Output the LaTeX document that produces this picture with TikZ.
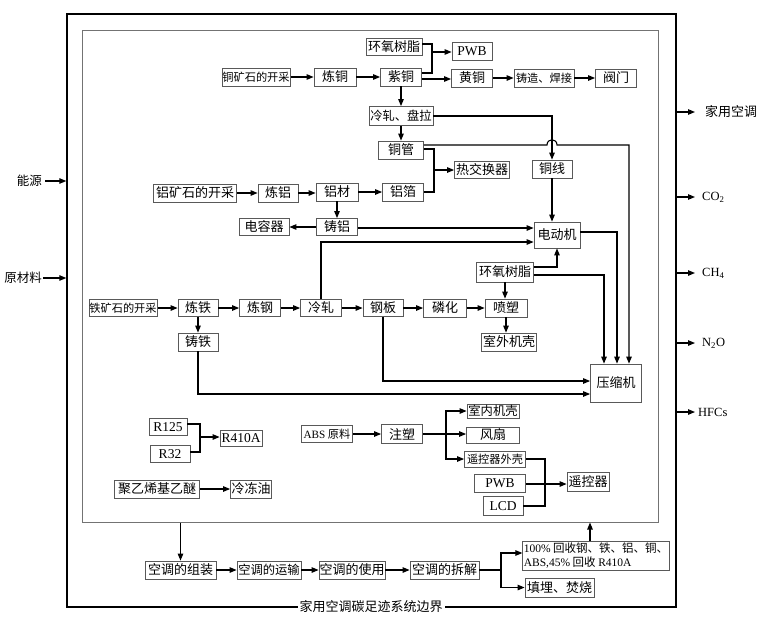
\documentclass[tikz,border=0pt]{standalone}
\usepackage{fontspec}
\setmainfont{Liberation Serif}
\newfontfamily\cjk{Noto Sans CJK SC}
\usetikzlibrary{arrows.meta}
\newcommand\lat[1]{{\rmfamily #1}}
\begin{document}
\begin{tikzpicture}[x=1pt,y=-1pt,
  box/.style={draw=black!65, line width=0.8pt, fill=white, inner sep=0.5pt,
    minimum height=18pt, font=\cjk\fontsize{13}{15}\selectfont},
  mid/.style={font=\cjk\fontsize{12.3}{14}\selectfont},
  small/.style={font=\cjk\fontsize{11.2}{13}\selectfont},
  latbox/.style={font=\rmfamily\fontsize{13.5}{15}\selectfont},
  arr/.style={-{Triangle[length=7pt,width=5.5pt]}, line width=1.1pt},
  ln/.style={line width=1.1pt},
  lab/.style={font=\cjk\fontsize{12.5}{14}\selectfont, inner sep=0pt},
  glab/.style={font=\rmfamily\fontsize{12.5}{14}\selectfont, inner sep=0pt, anchor=west}]
\useasboundingbox (0,0) rectangle (766,622);
% boundaries
\node[draw=black, line width=1.4pt, minimum width=609pt, minimum height=593pt, inner sep=0pt] (outer) at (371.5,310.5) {};
\node[draw=black!55, line width=1pt, minimum width=576pt, minimum height=492pt, inner sep=0pt] (inner) at (370,276) {};
\node[lab, fill=white, inner xsep=2pt, font=\cjk\fontsize{13}{15}\selectfont] (blabel) at (371,607) {家用空调碳足迹系统边界};
% left inputs
\node[lab, anchor=east] (energy) at (42,181) {能源};
\node[lab, anchor=east] (raw) at (42,278) {原材料};
\draw[arr] ([xshift=3pt]energy.east) -- (energy.east -| outer.west);
\draw[arr] ([xshift=1pt]raw.east) -- (raw.east -| outer.west);
% right outputs
\node[lab, anchor=west, font=\cjk\fontsize{13}{15}\selectfont] (o1) at (705,112) {家用空调};
\node[glab] (o2) at (702,197) {CO\textsubscript{2}};
\node[glab] (o3) at (702,273) {CH\textsubscript{4}};
\node[glab] (o4) at (702,343) {N\textsubscript{2}O};
\node[glab] (o5) at (698,412) {HFCs};
\draw[arr] (outer.east |- o1.west) -- ([xshift=-10pt]o1.west);
\draw[arr] (outer.east |- o2.west) -- ([xshift=-7pt]o2.west);
\draw[arr] (outer.east |- o3.west) -- ([xshift=-7pt]o3.west);
\draw[arr] (outer.east |- o4.west) -- ([xshift=-7pt]o4.west);
\draw[arr] (outer.east |- o5.west) -- ([xshift=-3pt]o5.west);
% copper
\node[box, minimum width=56pt, minimum height=17pt] (ep1) at (394,47) {环氧树脂};
\node[box, latbox, minimum width=40pt] (pwb1) at (472,51) {PWB};
\node[box, small, minimum width=68pt] (cuore) at (256,77) {铜矿石的开采};
\node[box, minimum width=42pt] (liantong) at (335,77) {炼铜};
\node[box, minimum width=41pt] (zitong) at (401,77) {紫铜};
\node[box, minimum width=41pt] (huangtong) at (472,78) {黄铜};
\node[box, small, minimum width=60pt] (zhuzao) at (544,78) {铸造、焊接};
\node[box, minimum width=41pt] (famen) at (616,78) {阀门};
\node[box, mid, minimum width=64pt, minimum height=19pt] (lengzha1) at (401,116) {冷轧、盘拉};
\node[box, minimum width=45pt] (tongguan) at (401,150) {铜管};
\node[box, minimum width=55pt, minimum height=17pt] (rejiao) at (482,170) {热交换器};
\node[box, minimum width=40pt] (tongxian) at (552,169) {铜线};
% aluminium
\node[box, minimum width=83pt] (alore) at (195,193) {铝矿石的开采};
\node[box, minimum width=40pt] (lianlv) at (278,193) {炼铝};
\node[box, minimum width=42pt] (lvcai) at (337,192) {铝材};
\node[box, minimum width=41pt] (lvbo) at (403,192) {铝箔};
\node[box, minimum width=41pt, minimum height=17pt] (zhulv) at (337,227) {铸铝};
\node[box, minimum width=50pt, minimum height=17pt] (dianrong) at (264,227) {电容器};
\node[box, minimum width=46pt, minimum height=26pt] (motor) at (557,235) {电动机};
\node[box, minimum width=57pt, minimum height=20pt] (ep2) at (505,272) {环氧树脂};
% iron
\node[box, small, minimum width=67pt, minimum height=17pt] (feore) at (123,308) {铁矿石的开采};
\node[box, minimum width=40pt, minimum height=17pt] (liantie) at (198,308) {炼铁};
\node[box, minimum width=41pt, minimum height=17pt] (liangang) at (260,308) {炼钢};
\node[box, minimum width=41pt, minimum height=17pt] (lengzha2) at (321,308) {冷轧};
\node[box, minimum width=40pt, minimum height=17pt] (gangban) at (383,308) {钢板};
\node[box, minimum width=43pt] (linhua) at (445,308) {磷化};
\node[box, minimum width=42pt] (pensu) at (506,308) {喷塑};
\node[box, minimum width=55pt] (shell) at (509,342) {室外机壳};
\node[box, minimum width=40pt] (zhutie) at (198,342) {铸铁};
\node[box, minimum width=51pt, minimum height=38pt] (comp) at (616,383) {压缩机};
% refrigerant, oil, plastics
\node[box, latbox, minimum width=38pt, minimum height=17pt] (r125) at (168,427) {R125};
\node[box, latbox, minimum width=40pt, minimum height=17pt] (r32) at (170,454) {R32};
\node[box, latbox, minimum width=42pt, minimum height=16pt] (r410a) at (241,438) {R410A};
\node[box, minimum width=85pt] (pve) at (157,489) {聚乙烯基乙醚};
\node[box, minimum width=41pt] (oil) at (251,489) {冷冻油};
\node[box, small, minimum width=51pt, minimum height=17pt] (abs) at (327,434) {\lat{ABS} 原料};
\node[box, minimum width=41pt, minimum height=19pt] (zhusu) at (402,434) {注塑};
\node[box, mid, minimum width=52pt, minimum height=14pt] (indoor) at (493,411) {室内机壳};
\node[box, minimum width=53pt, minimum height=16pt] (fan) at (493,435) {风扇};
\node[box, small, minimum width=61pt, minimum height=16pt] (rcshell) at (495,459) {遥控器外壳};
\node[box, latbox, minimum width=51pt] (pwb2) at (500,483) {PWB};
\node[box, latbox, minimum width=40pt, minimum height=19pt] (lcd) at (503,506) {LCD};
\node[box, minimum width=42pt, minimum height=19pt] (remote) at (588,482) {遥控器};
% life cycle
\node[box, minimum width=71pt] (assemble) at (180.5,570) {空调的组装};
\node[box, mid, minimum width=64pt] (transport) at (269,570) {空调的运输};
\node[box, minimum width=66pt] (use) at (352,570) {空调的使用};
\node[box, minimum width=69pt] (dismantle) at (444.5,570) {空调的拆解};
\node[box, font=\cjk\fontsize{11.5}{13.5}\selectfont, align=left, minimum width=145pt, minimum height=29pt, inner sep=1pt] (recycle) at (596,555.5) {\lat{100\%} 回收钢、铁、铝、铜、\\\lat{ABS,45\%} 回收 \lat{R410A}};
\node[box, minimum width=69pt, minimum height=19pt] (landfill) at (559.5,587.5) {填埋、焚烧};
% copper connectors
\draw[arr] (cuore.east) -- (cuore.east -| liantong.west);
\draw[arr] (liantong.east) -- (liantong.east -| zitong.west);
\draw[arr] (zitong.east |- 0,79) -- (huangtong.west |- 0,79);
\draw[arr] (huangtong.east) -- (huangtong.east -| zhuzao.west);
\draw[arr] (zhuzao.east) -- (zhuzao.east -| famen.west);
\coordinate (j1) at (432,52);
\draw[ln] (ep1.east |- 0,44) -| (j1) |- (zitong.east |- 0,73);
\draw[arr] (j1) -- (j1 -| pwb1.west);
\draw[arr] (zitong.south) -- (lengzha1.north);
\draw[arr] (lengzha1.south) -- (tongguan.north);
\draw[arr] (lengzha1.east) -| (tongxian.north);
\draw[arr] (tongguan.east |- 0,145) -- (547,145) .. controls (547,138) and (557,138) .. (557,145) -- (629,145) -- (comp.north -| 629,0);
\coordinate (j2) at (434,170);
\draw[ln] (tongguan.east |- 0,149) -| (j2) |- (lvbo.east);
\draw[arr] (j2) -- (j2 -| rejiao.west);
% aluminium connectors
\draw[arr] (alore.east) -- (alore.east -| lianlv.west);
\draw[arr] (lianlv.east) -- (lianlv.east -| lvcai.west);
\draw[arr] (lvcai.east) -- (lvcai.east -| lvbo.west);
\draw[arr] (lvcai.south) -- (zhulv.north);
\draw[arr] (zhulv.west) -- (zhulv.west -| dianrong.east);
\draw[arr] (zhulv.east |- 0,228) -- (motor.west |- 0,228);
\draw[arr] (lengzha2.north) |- (motor.west |- 0,242);
\draw[arr] (tongxian.south) -- (tongxian.south |- motor.north);
\draw[arr] (motor.east |- 0,232) -| (comp.north -| 617,0);
\draw[arr] (ep2.east |- 0,267) -| (motor.south);
\draw[arr] (ep2.east |- 0,275) -| (comp.north -| 604,0);
\draw[arr] (ep2.south) -- (ep2.south |- pensu.north);
% iron connectors
\draw[arr] (feore.east) -- (feore.east -| liantie.west);
\draw[arr] (liantie.east) -- (liantie.east -| liangang.west);
\draw[arr] (liangang.east) -- (liangang.east -| lengzha2.west);
\draw[arr] (lengzha2.east) -- (lengzha2.east -| gangban.west);
\draw[arr] (gangban.east) -- (gangban.east -| linhua.west);
\draw[arr] (linhua.east) -- (linhua.east -| pensu.west);
\draw[arr] (pensu.south) -- (pensu.south |- shell.north);
\draw[arr] (liantie.south) -- (zhutie.north);
\draw[arr] (gangban.south) |- (comp.west |- 0,381);
\draw[arr] (zhutie.south) |- (comp.west |- 0,394);
% refrigerant etc.
\coordinate (j3) at (200,437);
\draw[ln] (r125.east |- 0,424) -| (j3) |- (r32.east |- 0,452);
\draw[arr] (j3) -- (j3 -| r410a.west);
\draw[arr] (pve.east) -- (pve.east -| oil.west);
\draw[arr] (abs.east) -- (abs.east -| zhusu.west);
\coordinate (j4) at (446,434);
\draw[ln] (zhusu.east |- j4) -- (j4);
\draw[arr] (j4) |- (indoor.west);
\draw[arr] (j4) -- (j4 -| fan.west);
\draw[arr] (j4) |- (rcshell.west);
\draw[ln] (rcshell.east) -| (545,484) |- (lcd.east);
\draw[arr] (pwb2.east |- 0,484) -- (remote.west |- 0,484);
% life cycle connectors
\draw[arr] (inner.south -| assemble.north) -- (assemble.north);
\draw[arr] (assemble.east) -- (assemble.east -| transport.west);
\draw[arr] (transport.east) -- (transport.east -| use.west);
\draw[arr] (use.east) -- (use.east -| dismantle.west);
\coordinate (j5) at (501,570);
\draw[ln] (dismantle.east) -- (j5);
\draw[arr] (j5) |- (recycle.west |- 0,553);
\draw[arr] (j5) |- (landfill.west);
\draw[arr] (recycle.north -| 590,0) -- (inner.south -| 590,0);
\end{tikzpicture}
\end{document}
